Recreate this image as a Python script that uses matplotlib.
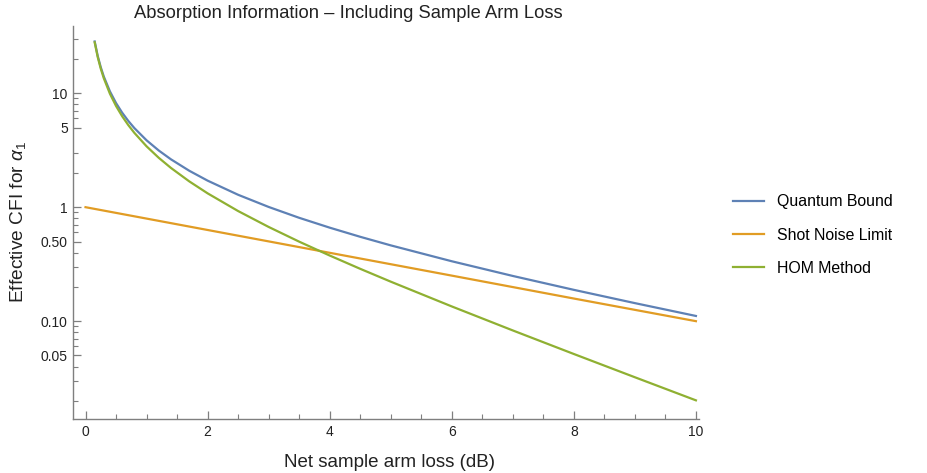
import numpy as np
import matplotlib
matplotlib.use('Agg')
import matplotlib.pyplot as plt
from matplotlib.ticker import FixedLocator, NullFormatter

plt.rcParams['font.family'] = ['Liberation Sans', 'DejaVu Sans']
plt.rcParams['mathtext.fontset'] = 'custom'
plt.rcParams['mathtext.it'] = 'Liberation Sans:italic'
plt.rcParams['mathtext.rm'] = 'Liberation Sans'

# data (loss in dB vs effective CFI)
loss = [0.15, 0.2, 0.25, 0.3, 0.4, 0.5, 0.6, 0.7, 0.8, 1.0, 1.2, 1.4, 1.7, 2.0,
        2.5, 3.0, 3.5, 4.0, 4.5, 5.0, 6.0, 7.0, 8.0, 9.0, 10.0]
quantum_bound = [28.45, 21.22, 16.88, 13.98, 10.37, 8.195, 6.750, 5.718, 4.944, 3.862,
                 3.142, 2.629, 2.087, 1.710, 1.285, 1.005, 0.807, 0.6614, 0.5499,
                 0.4625, 0.3355, 0.2493, 0.1883, 0.1440, 0.1111]
hom_method = [27.96, 20.73, 16.39, 13.50, 9.888, 7.724, 6.284, 5.258, 4.490, 3.420,
              2.711, 2.209, 1.684, 1.323, 0.925, 0.671, 0.4985, 0.3767, 0.2880,
              0.2222, 0.1347, 0.08292, 0.05153, 0.03221, 0.0202]
shot_loss = [0, 2, 4, 6, 8, 10]
shot_noise = [1.0, 0.631, 0.398, 0.251, 0.158, 0.1]

labels = ['Quantum Bound', 'Shot Noise Limit', 'HOM Method']
colors = ['#5E81B5', '#E19C24', '#8FB032']

fig = plt.figure(figsize=(9.28, 4.73), dpi=100)
ax = fig.add_axes([0.079, 0.1135, 0.6742, 0.8316])

ax.plot(loss, quantum_bound, color=colors[0], lw=1.6, label=labels[0], zorder=3)
ax.plot(shot_loss, shot_noise, color=colors[1], lw=1.6, label=labels[1], zorder=2)
ax.plot(loss, hom_method, color=colors[2], lw=1.6, label=labels[2], zorder=4)

ax.set_yscale('log')
ax.set_xlim(-0.2, 10.05)
ax.set_ylim(0.01377, 38.9)

# axes style like Mathematica
for s in ['top', 'right']:
    ax.spines[s].set_visible(False)
for s in ['left', 'bottom']:
    ax.spines[s].set_color('#7f7f7f')
    ax.spines[s].set_linewidth(1.0)

major_y = [0.05, 0.1, 0.5, 1, 5, 10]
major_y_labels = ['0.05', '0.10', '0.50', '1', '5', '10']
minor_y = [0.02, 0.03, 0.04, 0.06, 0.07, 0.08, 0.09, 0.2, 0.3, 0.4,
           0.6, 0.7, 0.8, 0.9, 2, 3, 6, 7, 8, 9, 20, 30]
ax.yaxis.set_major_locator(FixedLocator(major_y))
ax.set_yticklabels(major_y_labels)
ax.yaxis.set_minor_locator(FixedLocator(minor_y))
ax.yaxis.set_minor_formatter(NullFormatter())

major_x = [0, 2, 4, 6, 8, 10]
minor_x = [0.5, 1, 1.5, 2.5, 3, 3.5, 4.5, 5, 5.5, 6.5, 7, 7.5, 8.5, 9, 9.5]
ax.xaxis.set_major_locator(FixedLocator(major_x))
ax.xaxis.set_minor_locator(FixedLocator(minor_x))
ax.xaxis.set_minor_formatter(NullFormatter())

ax.tick_params(which='major', direction='in', length=6, width=0.9, color='#7f7f7f',
               labelsize=10, labelcolor='#222222', pad=4)
ax.tick_params(which='minor', direction='in', length=3.5, width=0.8, color='#7f7f7f')

fig.text(0.375, 0.972, 'Absorption Information \u2013 Including Sample Arm Loss',
         ha='center', va='center', fontsize=13.2, color='#222222')
fig.text(390 / 928, 11 / 473, 'Net sample arm loss (dB)', ha='center', va='center',
         fontsize=13.5, color='#222222')
fig.text(18 / 928, 0.53, r'Effective CFI for $\alpha_1$', ha='center', va='center',
         rotation=90, fontsize=13.8, color='#222222')

fig.legend(loc='center left', bbox_to_anchor=(0.790, 0.503), frameon=False,
           fontsize=11.4, handlelength=1.96, handletextpad=0.82, labelspacing=1.15,
           borderaxespad=0, borderpad=0)

fig.savefig('out.png', dpi=100)
